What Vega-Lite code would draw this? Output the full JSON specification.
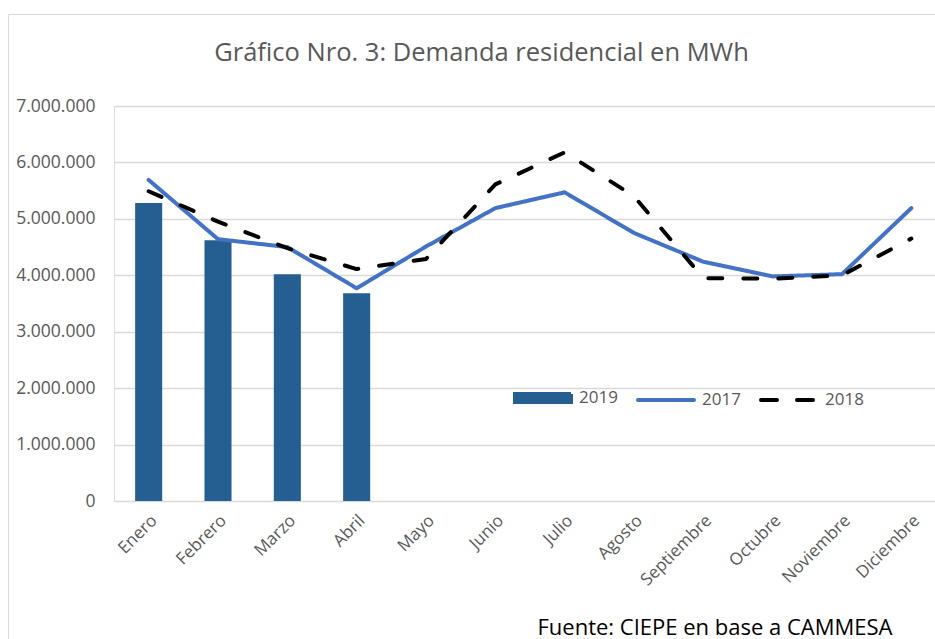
{
  "$schema": "https://vega.github.io/schema/vega-lite/v6.json",
  "autosize": "none",
  "width": 832,
  "height": 395,
  "padding": {"left": 114, "top": 106, "right": 0, "bottom": 138},
  "background": "white",
  "data": {
    "values": [
      {"mes": "Enero", "serie": "2019", "valor": 5280000},
      {"mes": "Febrero", "serie": "2019", "valor": 4620000},
      {"mes": "Marzo", "serie": "2019", "valor": 4020000},
      {"mes": "Abril", "serie": "2019", "valor": 3680000},
      {"mes": "Enero", "serie": "2017", "valor": 5690000},
      {"mes": "Febrero", "serie": "2017", "valor": 4640000},
      {"mes": "Marzo", "serie": "2017", "valor": 4500000},
      {"mes": "Abril", "serie": "2017", "valor": 3770000},
      {"mes": "Mayo", "serie": "2017", "valor": 4510000},
      {"mes": "Junio", "serie": "2017", "valor": 5190000},
      {"mes": "Julio", "serie": "2017", "valor": 5470000},
      {"mes": "Agosto", "serie": "2017", "valor": 4750000},
      {"mes": "Septiembre", "serie": "2017", "valor": 4240000},
      {"mes": "Octubre", "serie": "2017", "valor": 3980000},
      {"mes": "Noviembre", "serie": "2017", "valor": 4020000},
      {"mes": "Diciembre", "serie": "2017", "valor": 5190000},
      {"mes": "Enero", "serie": "2018", "valor": 5490000},
      {"mes": "Febrero", "serie": "2018", "valor": 4950000},
      {"mes": "Marzo", "serie": "2018", "valor": 4480000},
      {"mes": "Abril", "serie": "2018", "valor": 4110000},
      {"mes": "Mayo", "serie": "2018", "valor": 4290000},
      {"mes": "Junio", "serie": "2018", "valor": 5610000},
      {"mes": "Julio", "serie": "2018", "valor": 6180000},
      {"mes": "Agosto", "serie": "2018", "valor": 5400000},
      {"mes": "Septiembre", "serie": "2018", "valor": 3950000},
      {"mes": "Octubre", "serie": "2018", "valor": 3940000},
      {"mes": "Noviembre", "serie": "2018", "valor": 4000000},
      {"mes": "Diciembre", "serie": "2018", "valor": 4650000}
    ]
  },
  "encoding": {
    "x": {
      "field": "mes",
      "type": "ordinal",
      "sort": ["Enero", "Febrero", "Marzo", "Abril", "Mayo", "Junio", "Julio", "Agosto", "Septiembre", "Octubre", "Noviembre", "Diciembre"],
      "scale": {"paddingInner": 0, "paddingOuter": 0},
      "axis": {
        "title": "Fuente: CIEPE en base a CAMMESA",
        "titleFont": "Open Sans",
        "titleFontSize": 22,
        "titleFontWeight": "normal",
        "titleColor": "#000000",
        "titleAnchor": null,
        "titleAlign": "right",
        "titleBaseline": "alphabetic",
        "titleX": 778,
        "titleY": 133,
        "labelAngle": -45,
        "labelFont": "Open Sans",
        "labelFontSize": 17,
        "labelColor": "#595959",
        "labelPadding": 11,
        "domain": false,
        "ticks": false,
        "grid": false
      }
    },
    "y": {
      "field": "valor",
      "type": "quantitative",
      "scale": {"domain": [0, 7000000], "nice": false},
      "axis": {
        "title": "Gráfico Nro. 3: Demanda residencial en MWh",
        "titleFont": "Open Sans",
        "titleFontSize": 25.5,
        "titleFontWeight": "normal",
        "titleColor": "#595959",
        "titleAngle": 0,
        "titleAnchor": null,
        "titleAlign": "center",
        "titleBaseline": "alphabetic",
        "titleX": 367,
        "titleY": -46,
        "values": [0, 1000000, 2000000, 3000000, 4000000, 5000000, 6000000, 7000000],
        "labelExpr": "replace(format(datum.value, ','), regexp(',', 'g'), '.')",
        "labelFont": "Open Sans",
        "labelFontSize": 17.5,
        "labelColor": "#595959",
        "labelPadding": 19,
        "ticks": false,
        "domain": false,
        "grid": true,
        "gridColor": "#D9D9D9",
        "gridWidth": 1.3
      }
    }
  },
  "layer": [
    {
      "transform": [{"filter": "datum.serie === '2019'"}],
      "mark": {"type": "bar", "width": {"band": 0.39}},
      "encoding": {
        "color": {
          "field": "serie",
          "type": "nominal",
          "scale": {"domain": ["2019", "2017", "2018"], "range": ["#255E91", "#4472C4", "#000000"]},
          "legend": {
            "title": null,
            "orient": "none",
            "direction": "horizontal",
            "legendX": 399,
            "legendY": 262,
            "padding": 0,
            "symbolType": "stroke",
            "symbolSize": 3136,
            "symbolStrokeWidth": 4,
            "labelFont": "Open Sans",
            "labelFontSize": 17,
            "labelColor": "#595959",
            "labelOffset": 6,
            "columnPadding": 12,
            "encode": {
              "symbols": {
                "update": {
                  "shape": {"signal": "datum.value === '2019' ? 'M-1,-0.14L1,-0.14L1,0.14L-1,0.14Z' : 'stroke'"},
                  "stroke": {"signal": "scale('color', datum.value)"},
                  "fill": {"signal": "datum.value === '2019' ? scale('color', datum.value) : 'transparent'"},
                  "strokeDash": {"signal": "datum.value === '2018' ? [16, 20] : [1, 0]"},
                  "strokeCap": {"signal": "datum.value === '2019' ? 'butt' : 'round'"}
                }
              }
            }
          }
        },
        "opacity": {
          "field": "serie",
          "type": "ordinal",
          "scale": {"range": [1, 1]},
          "legend": {
            "title": null,
            "orient": "none",
            "legendX": -106,
            "legendY": -92,
            "padding": 480,
            "strokeColor": "#D9D9D9",
            "symbolType": "circle",
            "symbolSize": 0,
            "symbolStrokeWidth": 0,
            "symbolFillColor": "transparent",
            "symbolStrokeColor": "transparent",
            "symbolOpacity": 0,
            "labelOpacity": 0,
            "labelColor": "transparent",
            "encode": {
              "symbols": {"update": {"opacity": {"value": 0}, "fill": {"value": "transparent"}, "stroke": {"value": "transparent"}, "size": {"value": 0}}},
              "labels": {"update": {"opacity": {"value": 0}, "fill": {"value": "transparent"}}}
            }
          }
        }
      }
    },
    {
      "transform": [{"filter": "datum.serie !== '2019'"}],
      "mark": {"type": "line", "strokeWidth": 4, "strokeCap": "round", "strokeJoin": "round"},
      "encoding": {
        "color": {"field": "serie", "type": "nominal"},
        "strokeDash": {
          "field": "serie",
          "type": "nominal",
          "scale": {"domain": ["2017", "2018"], "range": [[1, 0], [14, 21]]},
          "legend": null
        }
      }
    }
  ]
}
